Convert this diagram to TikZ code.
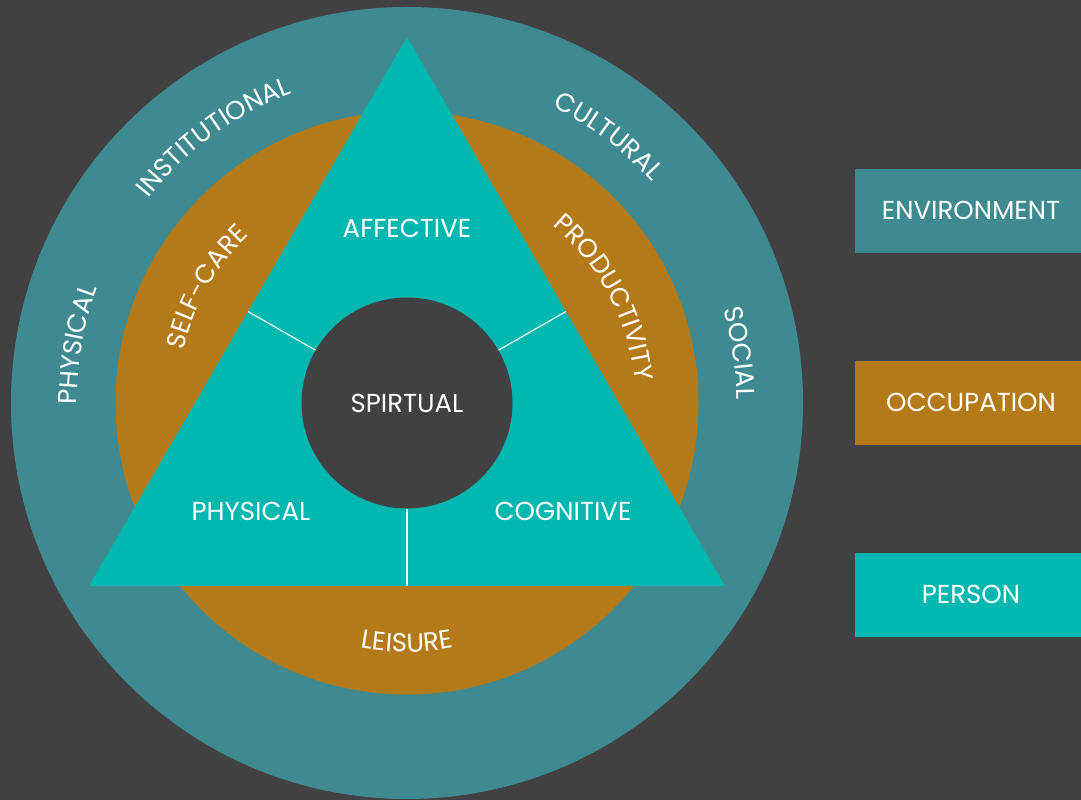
\documentclass[tikz,border=0pt]{standalone}
\usepackage{fontspec}
\newfontfamily\labfont{Poppins}
\usetikzlibrary{decorations.text}
\definecolor{bg}{HTML}{414042}
\definecolor{envcol}{HTML}{3F8A90}
\definecolor{occcol}{HTML}{B47A18}
\definecolor{percol}{HTML}{00B8B0}
\newcommand{\lblsize}{\labfont\fontsize{26}{31}\selectfont}
\begin{document}
\begin{tikzpicture}[x=1pt,y=1pt,
  lbl/.style={text=white, font=\lblsize, inner sep=0pt},
  legendbox/.style={lbl, minimum width=232pt, minimum height=84pt},
  sep/.style={draw=white, line width=1.3pt, opacity=0.9},
  arctext/.style={decorate, decoration={text along path, text align=center,
      text={|\lblsize\color{white}|#1}}}]
\useasboundingbox (0,0) rectangle (1081,800);
\clip (0,0) rectangle (1081,800);
\fill[bg] (0,0) rectangle (1081,800);

% rings
\coordinate (c) at (407,397);
\fill[envcol] (c) circle[radius=396];
\fill[occcol] (c) circle[radius=291.5];

% person triangle
\coordinate (apex) at (407,763);
\coordinate (bl) at (89,214);
\coordinate (br) at (725,214);
\fill[percol] (apex) -- (bl) -- (br) -- cycle;

% side midpoints
\coordinate (ml) at (248,488.5);
\coordinate (mr) at (566,488.5);
\coordinate (mb) at (407,214);

% core circle
\node[circle, fill=bg, minimum size=211pt, inner sep=0pt, lbl] (core) at (c) {SPIRTUAL};
\draw[sep] (core.150) -- (ml);
\draw[sep] (core.30) -- (mr);
\draw[sep] (core.270) -- (mb);

% person labels
\node[lbl] (aff) at (407,572) {AFFECTIVE};
\node[lbl] (phys) at (251,289) {PHYSICAL};
\node[lbl] (cog) at (563,289) {COGNITIVE};

% environment labels
\path[arctext=INSTITUTIONAL] (c) ++(166:330) arc[start angle=166, end angle=86, radius=330];
\path[arctext=CULTURAL] (c) ++(88:330) arc[start angle=88, end angle=18, radius=330];
\path[arctext=SOCIAL] (c) ++(43:330) arc[start angle=43, end angle=-26, radius=330];
\path[arctext=PHYSICAL] (c) ++(205:330) arc[start angle=205, end angle=135, radius=330];

% occupation labels
\path[arctext=SELF-CARE] (c) ++(185:230) arc[start angle=185, end angle=115, radius=230];
\path[arctext=PRODUCTIVITY] (c) ++(64:229) arc[start angle=64, end angle=-8, radius=229];
\path[arctext=LEISURE] (c) ++(235:249) arc[start angle=235, end angle=305, radius=249];

% legend
\node[legendbox, fill=envcol] (env) at (971,589.2) {ENVIRONMENT};
\node[legendbox, fill=occcol] (occ) at (971,397.3) {OCCUPATION};
\node[legendbox, fill=percol] (per) at (971,205.3) {PERSON};
\end{tikzpicture}
\end{document}
